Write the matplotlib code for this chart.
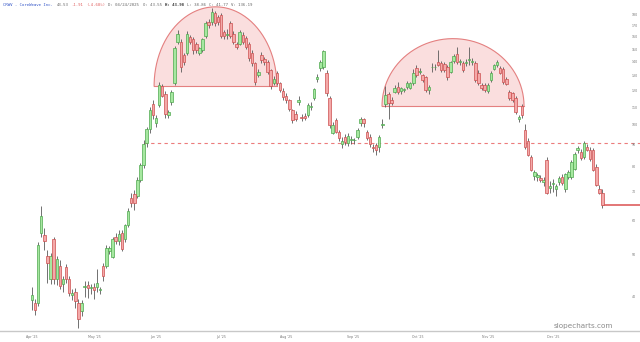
import numpy as np
import matplotlib
matplotlib.use('Agg')
from matplotlib import pyplot as plt
from matplotlib.ticker import FixedLocator, FixedFormatter, NullLocator

# daily candles (log price axis)
opens = [39.2, 38.6, 38.6, 56.2, 55.5, 49.6, 43.9, 54.2, 43.8, 47.1,
         42.6, 46.8, 43.8, 40.3, 41.0, 38.6, 37.0, 42.0, 42.5, 41.8,
         42.0, 42.0, 41.4, 47.0, 47.1, 51.0, 49.4, 54.8, 53.6, 56.1,
         54.4, 58.5, 67.6, 69.0, 68.4, 74.5, 80.7, 91.0, 98.0, 112.0,
         101.0, 111.0, 123.0, 118.0, 105.5, 113.0, 125.0, 156.0, 156.0, 145.0,
         147.0, 160.0, 158.0, 154.0, 147.0, 149.0, 161.0, 173.0, 173.0, 182.0,
         178.0, 180.0, 164.0, 162.0, 172.0, 163.0, 154.0, 154.0, 162.0, 159.0,
         154.0, 147.0, 139.0, 130.5, 145.0, 142.0, 140.0, 134.0, 125.0, 132.0,
         125.0, 120.0, 117.0, 114.0, 108.0, 106.0, 113.0, 104.5, 105.0, 105.4,
         110.0, 115.5, 128.0, 135.3, 136.2, 132.2, 115.5, 96.0, 102.6, 96.3,
         90.1, 93.7, 90.6, 92.2, 92.0, 93.7, 100.8, 103.0, 96.3, 93.7,
         88.8, 89.8, 88.8, 100.0, 111.7, 117.9, 114.2, 119.4, 122.3, 119.6,
         120.5, 122.4, 122.0, 124.8, 135.3, 133.0, 130.6, 129.2, 120.5, 136.0,
         136.0, 140.0, 139.1, 138.4, 136.2, 132.9, 140.7, 146.1, 140.0, 139.1,
         139.5, 141.5, 140.0, 139.1, 132.2, 123.8, 123.8, 119.8, 127.1, 134.8,
         137.7, 135.4, 134.8, 128.0, 119.2, 118.6, 115.5, 103.0, 110.6, 97.3,
         91.6, 84.2, 75.9, 75.7, 75.3, 73.7, 82.9, 71.4, 73.0, 71.0,
         73.7, 75.7, 70.8, 75.7, 75.7, 79.0, 87.4, 86.5, 84.2, 88.8,
         87.4, 87.4, 79.8, 71.0, 69.5]
highs = [42.0, 39.4, 53.5, 64.8, 57.5, 51.2, 50.5, 54.8, 49.5, 48.5,
         44.5, 47.5, 44.5, 41.5, 41.8, 39.5, 39.2, 43.5, 43.3, 42.8,
         43.0, 46.3, 42.0, 47.8, 52.5, 52.4, 55.0, 56.0, 57.0, 57.0,
         59.0, 64.0, 69.5, 70.5, 75.5, 81.5, 92.0, 99.0, 110.0, 114.5,
         105.5, 125.5, 124.5, 120.0, 108.0, 120.5, 152.5, 166.0, 158.0, 147.0,
         165.0, 162.0, 160.0, 156.0, 152.0, 159.5, 174.0, 176.0, 187.0, 184.0,
         180.0, 182.0, 166.0, 167.0, 174.0, 165.0, 156.0, 166.0, 164.0, 161.0,
         155.5, 149.0, 140.0, 135.0, 147.5, 143.5, 141.5, 135.0, 130.0, 133.5,
         126.0, 121.5, 118.5, 115.0, 109.0, 107.5, 117.0, 106.0, 106.5, 112.5,
         113.0, 122.0, 131.0, 141.5, 149.5, 134.0, 116.5, 101.5, 104.0, 97.5,
         93.5, 95.0, 95.5, 94.0, 93.0, 98.5, 104.5, 104.0, 97.5, 95.0,
         90.5, 91.0, 94.5, 103.0, 123.0, 119.5, 116.0, 123.5, 126.0, 122.5,
         122.0, 126.5, 125.5, 134.5, 138.0, 135.5, 131.5, 130.0, 123.5, 139.5,
         138.5, 149.0, 141.0, 140.0, 138.0, 141.0, 146.0, 152.0, 142.0, 140.5,
         142.0, 152.0, 143.0, 140.5, 134.0, 125.0, 125.0, 125.0, 133.5, 138.5,
         141.5, 137.0, 136.0, 129.5, 120.5, 119.5, 116.5, 105.5, 112.0, 100.5,
         93.0, 85.0, 78.5, 77.5, 76.5, 75.5, 84.0, 74.0, 75.0, 73.0,
         76.0, 77.0, 77.5, 78.5, 83.0, 86.5, 89.5, 88.0, 91.5, 90.5,
         89.0, 88.5, 81.0, 72.5, 71.0]
lows = [37.2, 36.2, 38.0, 55.0, 51.2, 43.0, 42.8, 42.8, 42.5, 41.5,
        41.0, 43.0, 40.0, 39.2, 37.5, 33.7, 36.0, 39.8, 39.6, 40.5,
        39.5, 41.0, 40.5, 43.5, 46.5, 50.0, 49.0, 53.0, 52.5, 51.0,
        53.5, 58.0, 64.5, 63.5, 67.5, 73.5, 79.5, 89.0, 96.0, 103.0,
        99.0, 110.0, 116.0, 104.0, 103.5, 111.5, 124.0, 154.0, 133.0, 138.0,
        145.0, 154.0, 146.0, 147.0, 145.0, 147.5, 159.0, 168.0, 171.0, 170.0,
        171.0, 159.0, 158.0, 158.5, 159.0, 154.0, 150.0, 153.0, 154.0, 150.0,
        141.0, 137.0, 124.0, 129.0, 139.5, 138.0, 131.0, 121.0, 123.5, 124.0,
        119.0, 114.5, 112.5, 107.5, 101.0, 102.0, 111.0, 102.0, 102.5, 104.5,
        108.5, 114.0, 126.0, 133.5, 135.0, 117.0, 98.5, 95.0, 95.5, 91.5,
        88.5, 90.0, 89.5, 90.5, 90.5, 92.5, 99.5, 99.0, 92.0, 89.0,
        86.5, 85.0, 86.5, 98.5, 110.0, 103.0, 111.5, 118.5, 118.0, 118.0,
        119.0, 121.0, 121.0, 124.0, 129.5, 131.5, 126.0, 119.0, 118.0, 133.0,
        134.0, 137.0, 132.5, 132.5, 127.0, 132.0, 139.5, 138.5, 138.0, 132.5,
        137.0, 138.0, 137.5, 125.5, 123.5, 120.5, 119.5, 118.5, 126.0, 134.0,
        136.5, 131.0, 124.5, 124.0, 114.5, 113.0, 106.0, 101.5, 104.0, 88.0,
        84.5, 78.0, 74.5, 74.0, 73.5, 72.0, 69.0, 69.5, 70.0, 68.5,
        72.5, 72.5, 70.0, 75.0, 75.0, 78.5, 86.0, 83.0, 83.5, 87.0,
        82.5, 78.0, 72.0, 69.0, 64.0]
closes = [40.2, 37.2, 52.6, 61.5, 53.8, 47.8, 49.6, 43.8, 48.8, 42.3,
          43.9, 43.8, 40.8, 40.8, 39.0, 35.4, 38.6, 42.2, 41.7, 42.1,
          41.4, 43.0, 41.6, 44.5, 51.7, 51.9, 54.2, 53.6, 55.8, 51.5,
          58.5, 63.1, 65.9, 66.0, 74.5, 80.7, 90.3, 98.0, 108.0, 105.4,
          104.0, 124.0, 117.0, 106.0, 107.0, 119.0, 151.0, 163.0, 136.0, 140.0,
          163.0, 156.0, 149.0, 149.0, 150.5, 158.0, 172.5, 171.0, 183.0, 172.0,
          173.0, 161.0, 161.0, 163.0, 161.0, 156.0, 152.0, 164.0, 156.0, 152.0,
          143.0, 139.0, 126.0, 133.0, 141.5, 140.0, 133.0, 123.0, 128.0, 125.0,
          120.5, 116.0, 114.0, 109.0, 102.6, 103.0, 114.5, 104.0, 103.5, 111.2,
          110.6, 121.0, 129.5, 140.0, 148.5, 118.6, 99.9, 100.0, 96.3, 93.2,
          91.6, 91.1, 94.2, 92.8, 92.2, 97.3, 103.1, 101.0, 93.2, 90.1,
          88.3, 87.4, 93.7, 100.3, 117.3, 112.7, 112.7, 121.7, 119.4, 121.7,
          121.0, 124.8, 124.8, 132.2, 130.6, 133.4, 127.1, 120.5, 122.5, 136.3,
          136.2, 137.7, 134.1, 134.1, 129.2, 140.0, 144.5, 140.0, 140.7, 134.1,
          140.0, 142.3, 140.5, 127.1, 125.1, 121.8, 120.5, 123.8, 132.2, 137.7,
          140.0, 132.0, 125.8, 124.5, 115.5, 114.2, 107.3, 104.2, 105.4, 88.8,
          85.1, 78.6, 77.7, 76.5, 74.5, 74.5, 69.5, 72.2, 73.3, 72.2,
          75.3, 73.3, 76.9, 77.7, 82.1, 85.5, 88.3, 83.8, 90.8, 87.4,
          83.3, 78.6, 72.5, 69.5, 65.3]

month_labels = ["Apr '25", "May '25", "Jun '25", "Jul '25", "Aug '25",
                "Sep '25", "Oct '25", "Nov '25", "Dec '25"]
month_pos = [0, 20, 40, 61, 82, 103.5, 124.5, 147, 168]
price_ticks = [40, 50, 60, 70, 80, 90, 100, 110, 120, 130, 140, 150, 160, 170, 180]

# rounded tops: (start index, end index, base price, top price)
top_arcs = [(39.4, 79.0, 123.1, 188.0), (112.9, 158.7, 110.6, 158.6)]
support_level = 90.6
support_start = 36

o = np.array(opens)
h = np.array(highs)
l = np.array(lows)
c = np.array(closes)
x = np.arange(len(c))
up = c >= o

fig = plt.figure(figsize=(6.4, 3.42), dpi=100)
ax = fig.add_axes([0, 0.032, 1, 0.968])
ax.set_yscale('log')
ax.set_xlim(-10.3, 196.1)
ax.set_ylim(33.2, 195)

# rounded top shapes
t = np.linspace(0, np.pi, 200)
for x0, x1, base, top in top_arcs:
    cx, a = (x0 + x1) / 2, (x1 - x0) / 2
    ax_x = cx + a * np.cos(t)
    ax_y = np.exp(np.log(base) + (np.log(top) - np.log(base)) * np.sin(t))
    ax.fill(ax_x, ax_y, facecolor='#f7c8c8', alpha=0.6, edgecolor='none', zorder=1)
    ax.plot(ax_x, ax_y, color='#e48080', lw=0.8, zorder=1.5)
    ax.plot([x0, x1], [base, base], color='#e48080', lw=0.8, zorder=1.5)

ax.hlines(support_level, support_start, 196.1, colors='#ec7c7c', lw=0.8,
          linestyles=(0, (3, 3)), zorder=1)

# candles
ax.vlines(x, l, h, colors='#5a5a5a', lw=0.6, zorder=2)
body_lo = np.minimum(o, c)
body_h = np.maximum(np.abs(c - o), 0.15)
ax.bar(x[up], body_h[up], bottom=body_lo[up], width=0.8,
       color='#a6e8a0', edgecolor='#4fa84f', linewidth=0.5, zorder=3)
ax.bar(x[~up], body_h[~up], bottom=body_lo[~up], width=0.8,
       color='#f4a9a9', edgecolor='#cc5050', linewidth=0.5, zorder=3)

# last price line
ax.hlines(c[-1], x[-1], 196.1, colors='#e06b6b', lw=1.3, zorder=2)

ax.yaxis.set_major_locator(FixedLocator(price_ticks))
ax.yaxis.set_major_formatter(FixedFormatter([str(v) for v in price_ticks]))
ax.yaxis.set_minor_locator(NullLocator())
ax.yaxis.tick_right()
ax.tick_params(axis='y', length=0, labelsize=2.3, colors='#777777', pad=-6)
ax.set_xticks(month_pos, month_labels)
ax.tick_params(axis='x', length=0, labelsize=2.3, colors='#777777', pad=2.5)

for side in ['top', 'left', 'right']:
    ax.spines[side].set_visible(False)
ax.spines['bottom'].set_color('#c8c8c8')
ax.spines['bottom'].set_linewidth(1.0)

# header line
header = [("CRWV - CoreWeave Inc.", '#3456c8', 'normal'), ("43.53", '#666666', 'normal'),
          ("-1.91", '#e06060', 'normal'), ("(-4.68%)", '#e06060', 'normal'),
          ("D: 04/24/2025", '#666666', 'normal'), ("O: 43.55", '#666666', 'normal'),
          ("H: 43.98", '#333333', 'bold'), ("L: 38.86", '#666666', 'normal'),
          ("C: 41.77", '#666666', 'normal'), ("V: 136.19", '#666666', 'normal')]
char_px = 2.45
pos = 3
for txt, col, wt in header:
    fig.text(pos / 640, 1 - 4.5 / 342, txt, fontsize=2.9, family='DejaVu Sans Mono',
             color=col, weight=wt, va='center', ha='left')
    pos += (len(txt) + 1) * char_px

fig.text(583 / 640, 1 - 326 / 342, 'slopecharts.com', fontsize=5.2, color='#8a8a8a',
         ha='center', va='center')

fig.savefig('out.png', dpi=100)
